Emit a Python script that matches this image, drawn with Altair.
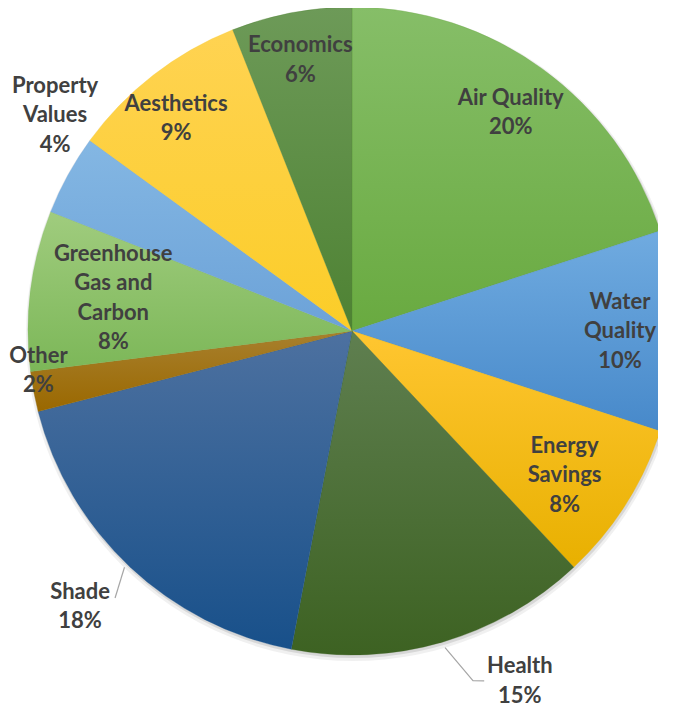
import math
import altair as alt
import pandas as pd

# ---- data ----
categories = ["Air Quality", "Water Quality", "Energy Savings", "Health", "Shade",
              "Other", "Greenhouse Gas and Carbon", "Property Values", "Aesthetics", "Economics"]
values = [20, 10, 8, 15, 18, 2, 8, 4, 9, 6]
label_lines = ["Air Quality", "Water\nQuality", "Energy\nSavings", "Health", "Shade",
               "Other", "Greenhouse\nGas and\nCarbon", "Property\nValues", "Aesthetics", "Economics"]

# ---- style / layout ----
top_colors = ["#86BE68", "#70ABE0", "#FFC631", "#5F7F50", "#4D71A0",
              "#A8802E", "#A0CC7E", "#84B7E3", "#FFD352", "#6D9A58"]
bottom_colors = ["#69AA40", "#4789CA", "#E8B000", "#3D6222", "#18508A",
                 "#9A6800", "#7CB758", "#6CA2D8", "#FBCD28", "#4E8233"]
label_theta_offset = [0, 0, 0.5, -2.62, 0.4, 1.0, 0.2, 2.0, -0.5, 0]   # percent units
label_radius = [270, 268, 257, 388, 387, 316, 241, 367, 276, 276]      # px

CX, CY, R = 344, 323, 324
W, H = 650, 699
LH = 29.5
TWO_PI = 2 * math.pi

df = pd.DataFrame({
    "category": categories,
    "value": values,
    "order": list(range(len(categories))),
    "label": [f"{l}\n{v}%" for l, v in zip(label_lines, values)],
    "loff": label_theta_offset,
    "lr": label_radius,
})

theta_scale = alt.Scale(domain=[0, 100], range=[0, TWO_PI])

base = alt.Chart(df).transform_window(
    cum="sum(value)", sort=[alt.SortField("order")], frame=[None, 0]
).transform_calculate(
    start="datum.cum - datum.value",
    lt="datum.cum - datum.value / 2 + datum.loff",
)

layers = []

# soft shadow
shadow = alt.Chart(pd.DataFrame({"v": [1]})).mark_arc(
    outerRadius=R + 3, fill="#000000", opacity=0.06
).encode(theta=alt.value(TWO_PI), x=alt.value(CX + 1), y=alt.value(CY + 3))
shadow2 = alt.Chart(pd.DataFrame({"v": [1]})).mark_arc(
    outerRadius=R + 1, fill="#000000", opacity=0.10
).encode(theta=alt.value(TWO_PI), x=alt.value(CX + 1), y=alt.value(CY + 2))
layers += [shadow, shadow2]

for i, cat in enumerate(categories):
    grad = alt.Gradient(
        gradient="linear",
        stops=[alt.GradientStop(color=top_colors[i], offset=0),
               alt.GradientStop(color=bottom_colors[i], offset=1)],
        x1=0, x2=0, y1=0, y2=1,
    )
    layers.append(
        base.transform_filter(alt.datum.category == cat).mark_arc(
            outerRadius=R, fill=grad, stroke=bottom_colors[i], strokeWidth=0.3
        ).encode(
            theta=alt.Theta("start:Q", scale=theta_scale),
            theta2="cum:Q",
            x=alt.value(CX), y=alt.value(CY),
        )
    )

# leader lines (polar points: percent angle, radius px)
leader_cat = ["Health", "Health", "Health", "Shade", "Shade"]
leader_ord = [0, 1, 2, 0, 1]
leader_ang = [45.45, 44.7, 44.25, 62.2, 61.55]
leader_rad = [330, 370, 374, 328, 357]
ldf = pd.DataFrame({"cat": leader_cat, "o": leader_ord, "a": leader_ang, "r": leader_rad})
leaders = alt.Chart(ldf).transform_calculate(
    px=f"{CX} + datum.r * sin(datum.a / 100 * {TWO_PI})",
    py=f"{CY} - datum.r * cos(datum.a / 100 * {TWO_PI})",
).mark_line(color="#A6A6A6", strokeWidth=1.2).encode(
    x=alt.X("px:Q", scale=None),
    y=alt.Y("py:Q", scale=None),
    detail="cat:N",
    order="o:Q",
)
layers.append(leaders)

labels = base.transform_calculate(
    nl="length(split(datum.label, '\\n'))",
).transform_calculate(
    tx=f"{CX} + datum.lr * sin(datum.lt / 100 * {TWO_PI})",
    ty=f"{CY} - datum.lr * cos(datum.lt / 100 * {TWO_PI}) - (datum.nl - 1) / 2 * {LH}",
).mark_text(
    font="Lato", fontSize=22, fontWeight="bold", color="#404040",
    lineBreak="\n", lineHeight=LH, align="center", baseline="middle",
).encode(
    x=alt.X("tx:Q", scale=None),
    y=alt.Y("ty:Q", scale=None),
    text="label:N",
)
layers.append(labels)

chart = alt.layer(*layers).properties(
    width=W, height=H, padding=0, autosize=alt.AutoSizeParams(type="none")
).configure_view(stroke=None)

chart.save("out.html", embed_options={"renderer": "svg", "actions": False})
